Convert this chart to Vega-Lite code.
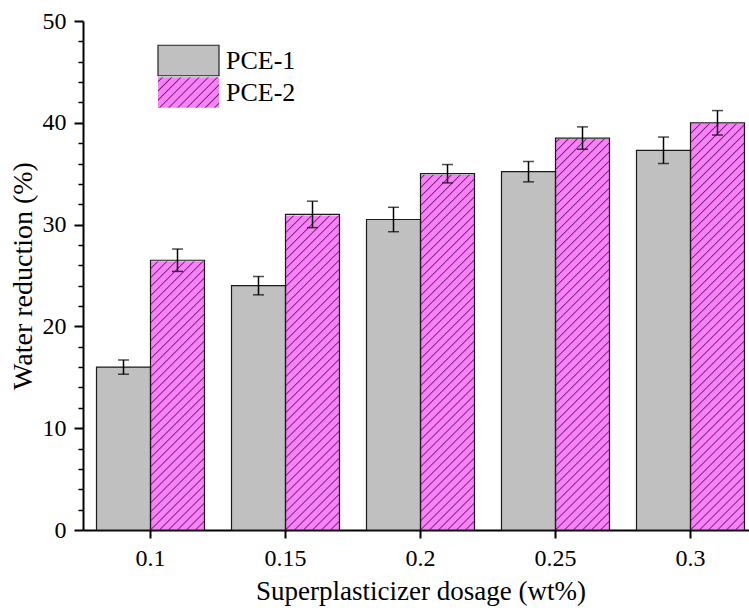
{
  "$schema": "https://vega.github.io/schema/vega-lite/v6.json",
  "width": 666,
  "height": 509,
  "autosize": {"type": "none"},
  "padding": {"left": 83, "top": 21, "right": 0, "bottom": 78},
  "background": "white",
  "config": {
    "view": {"stroke": null},
    "font": "Liberation Serif",
    "axis": {
      "labelFont": "Liberation Serif",
      "titleFont": "Liberation Serif",
      "labelColor": "black",
      "titleColor": "black",
      "titleFontWeight": "normal",
      "domainColor": "black",
      "tickColor": "black",
      "grid": false
    },
    "legend": {
      "title": null,
      "orient": "none",
      "symbolType": "M-1,-0.5H1V0.5H-1Z",
      "symbolSize": 3721,
      "symbolStrokeColor": "#222222",
      "symbolStrokeWidth": 1.2,
      "labelFont": "Liberation Serif",
      "labelFontSize": 26,
      "labelColor": "black",
      "labelOffset": 6
    }
  },
  "data": {
    "values": [
      {"dosage": "0.1", "series": "PCE-1", "value": 16.0, "lower": 15.3, "upper": 16.7},
      {"dosage": "0.1", "series": "PCE-2", "value": 26.5, "lower": 25.4, "upper": 27.6},
      {"dosage": "0.15", "series": "PCE-1", "value": 24.0, "lower": 23.1, "upper": 24.9},
      {"dosage": "0.15", "series": "PCE-2", "value": 31.0, "lower": 29.7, "upper": 32.3},
      {"dosage": "0.2", "series": "PCE-1", "value": 30.5, "lower": 29.3, "upper": 31.7},
      {"dosage": "0.2", "series": "PCE-2", "value": 35.0, "lower": 34.1, "upper": 35.9},
      {"dosage": "0.25", "series": "PCE-1", "value": 35.2, "lower": 34.2, "upper": 36.2},
      {"dosage": "0.25", "series": "PCE-2", "value": 38.5, "lower": 37.4, "upper": 39.6},
      {"dosage": "0.3", "series": "PCE-1", "value": 37.3, "lower": 36.0, "upper": 38.6},
      {"dosage": "0.3", "series": "PCE-2", "value": 40.0, "lower": 38.8, "upper": 41.2}
    ]
  },
  "encoding": {
    "x": {
      "field": "dosage",
      "type": "nominal",
      "sort": null,
      "scale": {"range": [0, 675], "paddingInner": 0.2, "paddingOuter": 0.1},
      "axis": {
        "title": "Superplasticizer dosage (wt%)",
        "labelAngle": 0,
        "labelFont": "Liberation Serif",
        "titleFont": "Liberation Serif",
        "tickSize": 8,
        "tickWidth": 2,
        "domainWidth": 2,
        "labelFontSize": 24,
        "labelPadding": 8,
        "titleFontSize": 27,
        "titlePadding": 8
      }
    },
    "xOffset": {
      "field": "series",
      "type": "nominal",
      "sort": null,
      "scale": {"domain": ["PCE-1", "PCE-2"], "paddingInner": 0, "paddingOuter": 0}
    }
  },
  "layer": [
    {
      "transform": [{"filter": "datum.series === 'PCE-1'"}],
      "mark": {"type": "bar", "strokeWidth": 0},
      "encoding": {
        "y": {
          "field": "value",
          "type": "quantitative",
          "scale": {"domain": [0, 50], "nice": false},
          "axis": {
            "orient": "left",
            "title": "Water reduction (%)",
            "values": [0, 10, 20, 30, 40, 50],
            "labelFont": "Liberation Serif",
            "titleFont": "Liberation Serif",
            "tickSize": 9,
            "tickWidth": 2,
            "domainWidth": 2,
            "labelFontSize": 24,
            "labelPadding": 8,
            "titleFontSize": 28,
            "titlePadding": 5
          }
        },
        "fill": {
          "field": "series",
          "type": "nominal",
          "scale": {"domain": ["PCE-1"], "range": ["#c0c0c0"]},
          "legend": {"legendX": 74, "legendY": 8}
        }
      }
    },
    {
      "transform": [{"filter": "datum.series === 'PCE-2'"}],
      "mark": {
        "type": "bar",
        "strokeWidth": 0,
        "fill": {
          "gradient": "linear",
          "x1": 0, "y1": 0, "x2": 0.11604, "y2": 1.09378,
          "stops": [
            {"offset": 0.1338, "color": "#f880f8"}, {"offset": 0.136, "color": "#6a1f6a"}, {"offset": 0.1382, "color": "#f880f8"},
            {"offset": 0.1498, "color": "#f880f8"}, {"offset": 0.152, "color": "#6a1f6a"}, {"offset": 0.1542, "color": "#f880f8"},
            {"offset": 0.1658, "color": "#f880f8"}, {"offset": 0.168, "color": "#6a1f6a"}, {"offset": 0.1702, "color": "#f880f8"},
            {"offset": 0.1818, "color": "#f880f8"}, {"offset": 0.184, "color": "#6a1f6a"}, {"offset": 0.1862, "color": "#f880f8"},
            {"offset": 0.1978, "color": "#f880f8"}, {"offset": 0.200, "color": "#6a1f6a"}, {"offset": 0.2022, "color": "#f880f8"},
            {"offset": 0.2138, "color": "#f880f8"}, {"offset": 0.216, "color": "#6a1f6a"}, {"offset": 0.2182, "color": "#f880f8"},
            {"offset": 0.2298, "color": "#f880f8"}, {"offset": 0.232, "color": "#6a1f6a"}, {"offset": 0.2342, "color": "#f880f8"},
            {"offset": 0.2458, "color": "#f880f8"}, {"offset": 0.248, "color": "#6a1f6a"}, {"offset": 0.2502, "color": "#f880f8"},
            {"offset": 0.2618, "color": "#f880f8"}, {"offset": 0.264, "color": "#6a1f6a"}, {"offset": 0.2662, "color": "#f880f8"},
            {"offset": 0.2778, "color": "#f880f8"}, {"offset": 0.280, "color": "#6a1f6a"}, {"offset": 0.2822, "color": "#f880f8"},
            {"offset": 0.2938, "color": "#f880f8"}, {"offset": 0.296, "color": "#6a1f6a"}, {"offset": 0.2982, "color": "#f880f8"},
            {"offset": 0.3098, "color": "#f880f8"}, {"offset": 0.312, "color": "#6a1f6a"}, {"offset": 0.3142, "color": "#f880f8"},
            {"offset": 0.3258, "color": "#f880f8"}, {"offset": 0.328, "color": "#6a1f6a"}, {"offset": 0.3302, "color": "#f880f8"},
            {"offset": 0.3418, "color": "#f880f8"}, {"offset": 0.344, "color": "#6a1f6a"}, {"offset": 0.3462, "color": "#f880f8"},
            {"offset": 0.3578, "color": "#f880f8"}, {"offset": 0.360, "color": "#6a1f6a"}, {"offset": 0.3622, "color": "#f880f8"},
            {"offset": 0.3738, "color": "#f880f8"}, {"offset": 0.376, "color": "#6a1f6a"}, {"offset": 0.3782, "color": "#f880f8"},
            {"offset": 0.3898, "color": "#f880f8"}, {"offset": 0.392, "color": "#6a1f6a"}, {"offset": 0.3942, "color": "#f880f8"},
            {"offset": 0.4058, "color": "#f880f8"}, {"offset": 0.408, "color": "#6a1f6a"}, {"offset": 0.4102, "color": "#f880f8"},
            {"offset": 0.4218, "color": "#f880f8"}, {"offset": 0.424, "color": "#6a1f6a"}, {"offset": 0.4262, "color": "#f880f8"},
            {"offset": 0.4378, "color": "#f880f8"}, {"offset": 0.440, "color": "#6a1f6a"}, {"offset": 0.4422, "color": "#f880f8"},
            {"offset": 0.4538, "color": "#f880f8"}, {"offset": 0.456, "color": "#6a1f6a"}, {"offset": 0.4582, "color": "#f880f8"},
            {"offset": 0.4698, "color": "#f880f8"}, {"offset": 0.472, "color": "#6a1f6a"}, {"offset": 0.4742, "color": "#f880f8"},
            {"offset": 0.4858, "color": "#f880f8"}, {"offset": 0.488, "color": "#6a1f6a"}, {"offset": 0.4902, "color": "#f880f8"},
            {"offset": 0.5018, "color": "#f880f8"}, {"offset": 0.504, "color": "#6a1f6a"}, {"offset": 0.5062, "color": "#f880f8"},
            {"offset": 0.5178, "color": "#f880f8"}, {"offset": 0.520, "color": "#6a1f6a"}, {"offset": 0.5222, "color": "#f880f8"},
            {"offset": 0.5338, "color": "#f880f8"}, {"offset": 0.536, "color": "#6a1f6a"}, {"offset": 0.5382, "color": "#f880f8"},
            {"offset": 0.5498, "color": "#f880f8"}, {"offset": 0.552, "color": "#6a1f6a"}, {"offset": 0.5542, "color": "#f880f8"},
            {"offset": 0.5658, "color": "#f880f8"}, {"offset": 0.568, "color": "#6a1f6a"}, {"offset": 0.5702, "color": "#f880f8"},
            {"offset": 0.5818, "color": "#f880f8"}, {"offset": 0.584, "color": "#6a1f6a"}, {"offset": 0.5862, "color": "#f880f8"},
            {"offset": 0.5978, "color": "#f880f8"}, {"offset": 0.600, "color": "#6a1f6a"}, {"offset": 0.6022, "color": "#f880f8"},
            {"offset": 0.6138, "color": "#f880f8"}, {"offset": 0.616, "color": "#6a1f6a"}, {"offset": 0.6182, "color": "#f880f8"},
            {"offset": 0.6298, "color": "#f880f8"}, {"offset": 0.632, "color": "#6a1f6a"}, {"offset": 0.6342, "color": "#f880f8"},
            {"offset": 0.6458, "color": "#f880f8"}, {"offset": 0.648, "color": "#6a1f6a"}, {"offset": 0.6502, "color": "#f880f8"},
            {"offset": 0.6618, "color": "#f880f8"}, {"offset": 0.664, "color": "#6a1f6a"}, {"offset": 0.6662, "color": "#f880f8"},
            {"offset": 0.6778, "color": "#f880f8"}, {"offset": 0.680, "color": "#6a1f6a"}, {"offset": 0.6822, "color": "#f880f8"},
            {"offset": 0.6938, "color": "#f880f8"}, {"offset": 0.696, "color": "#6a1f6a"}, {"offset": 0.6982, "color": "#f880f8"},
            {"offset": 0.7098, "color": "#f880f8"}, {"offset": 0.712, "color": "#6a1f6a"}, {"offset": 0.7142, "color": "#f880f8"},
            {"offset": 0.7258, "color": "#f880f8"}, {"offset": 0.728, "color": "#6a1f6a"}, {"offset": 0.7302, "color": "#f880f8"},
            {"offset": 0.7418, "color": "#f880f8"}, {"offset": 0.744, "color": "#6a1f6a"}, {"offset": 0.7462, "color": "#f880f8"},
            {"offset": 0.7578, "color": "#f880f8"}, {"offset": 0.760, "color": "#6a1f6a"}, {"offset": 0.7622, "color": "#f880f8"},
            {"offset": 0.7738, "color": "#f880f8"}, {"offset": 0.776, "color": "#6a1f6a"}, {"offset": 0.7782, "color": "#f880f8"},
            {"offset": 0.7898, "color": "#f880f8"}, {"offset": 0.792, "color": "#6a1f6a"}, {"offset": 0.7942, "color": "#f880f8"},
            {"offset": 0.8058, "color": "#f880f8"}, {"offset": 0.808, "color": "#6a1f6a"}, {"offset": 0.8102, "color": "#f880f8"},
            {"offset": 0.8218, "color": "#f880f8"}, {"offset": 0.824, "color": "#6a1f6a"}, {"offset": 0.8262, "color": "#f880f8"},
            {"offset": 0.8378, "color": "#f880f8"}, {"offset": 0.840, "color": "#6a1f6a"}, {"offset": 0.8422, "color": "#f880f8"},
            {"offset": 0.8538, "color": "#f880f8"}, {"offset": 0.856, "color": "#6a1f6a"}, {"offset": 0.8582, "color": "#f880f8"},
            {"offset": 0.8698, "color": "#f880f8"}, {"offset": 0.872, "color": "#6a1f6a"}, {"offset": 0.8742, "color": "#f880f8"},
            {"offset": 0.8858, "color": "#f880f8"}, {"offset": 0.888, "color": "#6a1f6a"}, {"offset": 0.8902, "color": "#f880f8"},
            {"offset": 0.9018, "color": "#f880f8"}, {"offset": 0.904, "color": "#6a1f6a"}, {"offset": 0.9062, "color": "#f880f8"},
            {"offset": 0.9178, "color": "#f880f8"}, {"offset": 0.920, "color": "#6a1f6a"}, {"offset": 0.9222, "color": "#f880f8"},
            {"offset": 0.9338, "color": "#f880f8"}, {"offset": 0.936, "color": "#6a1f6a"}, {"offset": 0.9382, "color": "#f880f8"},
            {"offset": 0.9498, "color": "#f880f8"}, {"offset": 0.952, "color": "#6a1f6a"}, {"offset": 0.9542, "color": "#f880f8"},
            {"offset": 0.9658, "color": "#f880f8"}, {"offset": 0.968, "color": "#6a1f6a"}, {"offset": 0.9702, "color": "#f880f8"},
            {"offset": 0.9818, "color": "#f880f8"}, {"offset": 0.984, "color": "#6a1f6a"}, {"offset": 0.9862, "color": "#f880f8"}
          ]
        }
      },
      "encoding": {
        "y": {
          "datum": 0,
          "type": "quantitative",
          "axis": {
            "orient": "left",
            "title": null,
            "values": [2, 4, 6, 8, 12, 14, 16, 18, 22, 24, 26, 28, 32, 34, 36, 38, 42, 44, 46, 48],
            "labels": false,
            "domain": false,
            "tickSize": 5,
            "tickWidth": 1.5
          }
        },
        "y2": {"datum": 50}
      }
    },
    {
      "transform": [{"filter": "datum.series === 'PCE-2'"}],
      "mark": {"type": "bar", "fill": "white", "stroke": "white", "strokeWidth": 2},
      "encoding": {
        "y": {"field": "value", "type": "quantitative", "axis": null},
        "y2": {"datum": 50}
      }
    },
    {
      "transform": [{"filter": "datum.series === 'PCE-2'"}],
      "mark": {
        "type": "bar",
        "strokeWidth": 0,
        "fill": {
          "gradient": "linear",
          "x1": 0, "y1": 0, "x2": 1.2, "y2": 0.6,
          "stops": [
            {"offset": 0.0365, "color": "#f880f8"}, {"offset": 0.05, "color": "#6a1f6a"}, {"offset": 0.0635, "color": "#f880f8"},
            {"offset": 0.1365, "color": "#f880f8"}, {"offset": 0.15, "color": "#6a1f6a"}, {"offset": 0.1635, "color": "#f880f8"},
            {"offset": 0.2365, "color": "#f880f8"}, {"offset": 0.25, "color": "#6a1f6a"}, {"offset": 0.2635, "color": "#f880f8"},
            {"offset": 0.3365, "color": "#f880f8"}, {"offset": 0.35, "color": "#6a1f6a"}, {"offset": 0.3635, "color": "#f880f8"},
            {"offset": 0.4365, "color": "#f880f8"}, {"offset": 0.45, "color": "#6a1f6a"}, {"offset": 0.4635, "color": "#f880f8"},
            {"offset": 0.5365, "color": "#f880f8"}, {"offset": 0.55, "color": "#6a1f6a"}, {"offset": 0.5635, "color": "#f880f8"},
            {"offset": 0.6365, "color": "#f880f8"}, {"offset": 0.65, "color": "#6a1f6a"}, {"offset": 0.6635, "color": "#f880f8"},
            {"offset": 0.7365, "color": "#f880f8"}, {"offset": 0.75, "color": "#6a1f6a"}, {"offset": 0.7635, "color": "#f880f8"},
            {"offset": 0.8365, "color": "#f880f8"}, {"offset": 0.85, "color": "#6a1f6a"}, {"offset": 0.8635, "color": "#f880f8"},
            {"offset": 0.9365, "color": "#f880f8"}, {"offset": 0.95, "color": "#6a1f6a"}, {"offset": 0.9635, "color": "#f880f8"}
          ]
        }
      },
      "encoding": {
        "y": {"datum": 0, "type": "quantitative", "axis": null},
        "y2": {"datum": 0},
        "strokeDash": {
          "field": "series",
          "type": "nominal",
          "scale": {"domain": ["PCE-2"], "range": [[1, 0]]},
          "legend": {"legendX": 74, "legendY": 40}
        }
      }
    },
    {
      "mark": {"type": "bar", "fill": "transparent", "stroke": "#1a1a1a", "strokeWidth": 1.2},
      "encoding": {
        "y": {"field": "value", "type": "quantitative", "axis": null}
      }
    },
    {
      "mark": {"type": "rule", "color": "black", "strokeWidth": 1.5},
      "encoding": {
        "y": {"field": "lower", "type": "quantitative", "axis": null},
        "y2": {"field": "upper"}
      }
    },
    {
      "mark": {"type": "tick", "color": "black", "thickness": 1.5, "size": 11},
      "encoding": {
        "y": {"field": "lower", "type": "quantitative", "axis": null}
      }
    },
    {
      "mark": {"type": "tick", "color": "black", "thickness": 1.5, "size": 11},
      "encoding": {
        "y": {"field": "upper", "type": "quantitative", "axis": null}
      }
    }
  ],
  "resolve": {"axis": {"y": "independent"}}
}
